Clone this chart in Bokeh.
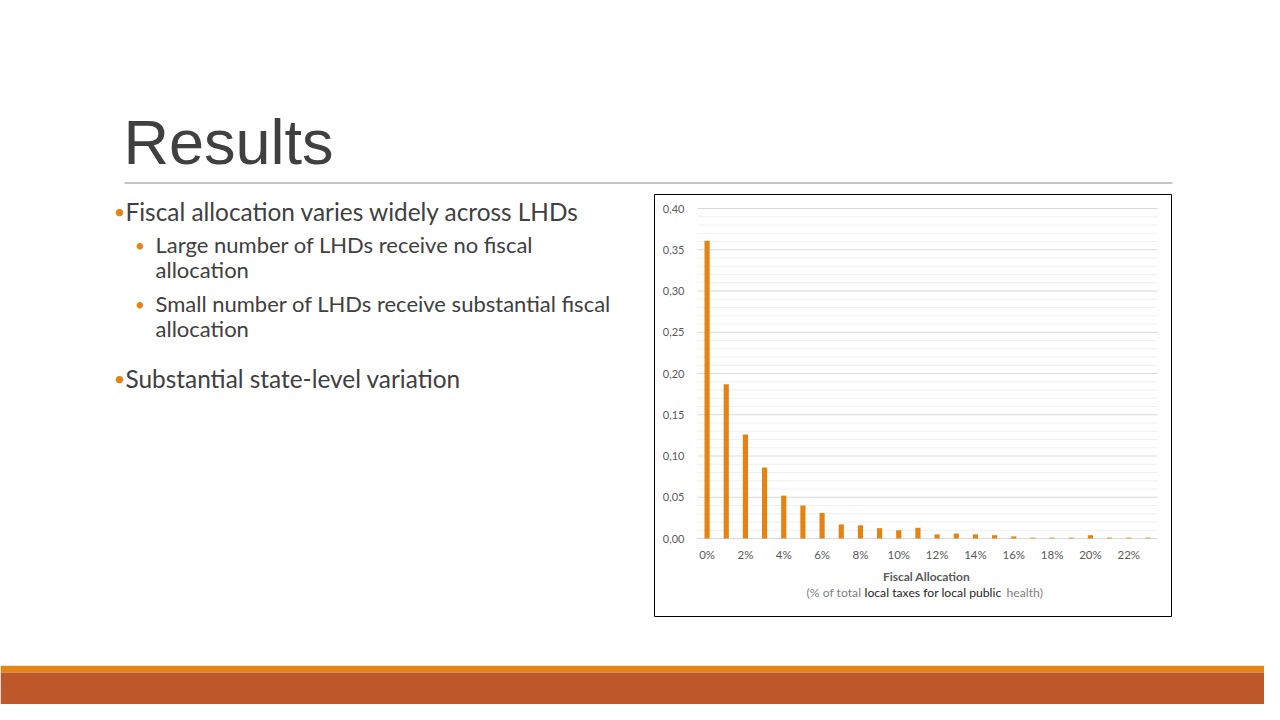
from bokeh.plotting import figure
from bokeh.layouts import column, row
from bokeh.models import Range1d, FixedTicker, CustomJSTickFormatter, ColumnDataSource, LinearAxis
from bokeh.core.properties import value
from bokeh.embed import file_html
from bokeh.resources import INLINE

# ---------------- data ----------------
slide_title = "Results"
bullet_1 = "Fiscal allocation varies widely across LHDs"
sub_bullet_1 = ["Large number of LHDs receive no fiscal", "allocation"]
sub_bullet_2 = ["Small number of LHDs receive substantial fiscal", "allocation"]
bullet_2 = "Substantial state-level variation"

allocation_pct = list(range(24))
share = [0.361, 0.187, 0.126, 0.086, 0.052, 0.040, 0.031, 0.017, 0.016, 0.0125,
         0.010, 0.013, 0.005, 0.006, 0.005, 0.004, 0.0025, 0.001, 0.001, 0.001,
         0.004, 0.001, 0.001, 0.001]
x_tick_values = [0, 2, 4, 6, 8, 10, 12, 14, 16, 18, 20, 22]
y_tick_values = [0.00, 0.05, 0.10, 0.15, 0.20, 0.25, 0.30, 0.35, 0.40]
y_minor_values = [i / 100 for i in range(41) if i % 5 != 0]
x_title = "Fiscal Allocation"
x_subtitle_parts = ["(% of total", "local taxes for local public", "health)"]

# ---------------- styles ----------------
ORANGE = "#E48312"
RUST = "#BE582B"
TEXT = "#404040"
BODY_FONT = "Lato"
CHART_FONT = "Lato"
W, H = 1264, 704


def canvas(w, h, x0, y0):
    return figure(width=w, height=h, x_range=Range1d(x0, x0 + w), y_range=Range1d(y0 + h, y0),
                  x_axis_type=None, y_axis_type=None, toolbar_location=None,
                  output_backend="svg", min_border=0, outline_line_color=None,
                  background_fill_color="white", border_fill_color="white")


def put_text(p, x, y, txt, size, color=TEXT, font=BODY_FONT, style="normal", align="left"):
    p.text(x=[x], y=[y], text=[txt], text_font=value(font), text_font_size=value(f"{size}px"),
           text_color=color, text_baseline="middle", text_align=align, text_font_style=style)


# header (y 0..194)
header = canvas(W, 194, 0, 0)
put_text(header, 123, 141.5, slide_title, 63, color="#404040", font="Liberation Sans")
header.segment(x0=[124], y0=[182.5], x1=[1172], y1=[182.5], line_color="#8c8c8c", line_width=1)

# left text panel (x 0..654, y 194..617)
left = canvas(654, 423, 0, 194)
main_size = 24.4
sub_size = 22
main_k = 0.387 * main_size
sub_k = 0.387 * sub_size
put_text(left, 119, 210.5, "•", 20, color=ORANGE, align="center")
put_text(left, 125, 220 - main_k, bullet_1, main_size)
put_text(left, 139.5, 244.5, "•", 17, color=ORANGE, align="center")
put_text(left, 155, 252.7 - sub_k, sub_bullet_1[0], sub_size)
put_text(left, 155, 278 - sub_k, sub_bullet_1[1], sub_size)
put_text(left, 139.5, 304, "•", 17, color=ORANGE, align="center")
put_text(left, 155, 312 - sub_k, sub_bullet_2[0], sub_size)
put_text(left, 155, 337 - sub_k, sub_bullet_2[1], sub_size)
put_text(left, 119, 377, "•", 20, color=ORANGE, align="center")
put_text(left, 125, 387 - main_k, bullet_2, main_size)

# chart box (x 654..1172, y 194..617); plot area x 697..1157, y 208..538
box_l, box_r, box_t, box_b = 654, 1172, 194, 617
pa_l, pa_r, pa_t, pa_b = 697, 1157, 208, 538
x_lo, x_hi = -0.5, len(allocation_pct) - 0.5
y_lo, y_hi = 0.0, 0.40
sx = (x_hi - x_lo) / (pa_r - pa_l)
sy = (y_hi - y_lo) / (pa_b - pa_t)
chart = figure(width=box_r - box_l, height=box_b - box_t,
               x_range=Range1d(x_lo - (pa_l - box_l) * sx, x_hi + (box_r - pa_r) * sx),
               y_range=Range1d(y_lo - (box_b - pa_b) * sy, y_hi + (pa_t - box_t) * sy),
               x_axis_type=None, y_axis_type=None, toolbar_location=None, output_backend="svg",
               min_border=0, outline_line_color="black", outline_line_width=1,
               background_fill_color="white", border_fill_color="white")

# gridlines (minor, major) across the plot area only
chart.segment(x0=x_lo, x1=x_hi, y0=y_minor_values, y1=y_minor_values, line_color="#f0f0f0", line_width=1)
chart.segment(x0=x_lo, x1=x_hi, y0=y_tick_values, y1=y_tick_values, line_color="#d9d9d9", line_width=1)

src = ColumnDataSource(dict(x=allocation_pct, top=share))
chart.vbar(x="x", top="top", width=0.27, source=src, fill_color=ORANGE, line_color=None)

yaxis = LinearAxis(fixed_location=x_lo, ticker=FixedTicker(ticks=y_tick_values),
                   formatter=CustomJSTickFormatter(code="return tick.toFixed(2).replace('.', ',');"))
yaxis.axis_line_color = None
yaxis.major_tick_line_color = None
yaxis.minor_tick_line_color = None
yaxis.major_label_standoff = 7
yaxis.major_label_text_color = "#595959"
yaxis.major_label_text_font = CHART_FONT
yaxis.major_label_text_font_size = "11px"
chart.add_layout(yaxis, "left")

xaxis = LinearAxis(fixed_location=y_lo, ticker=FixedTicker(ticks=x_tick_values),
                   formatter=CustomJSTickFormatter(code="return tick + '%';"))
xaxis.axis_line_color = None
xaxis.major_tick_line_color = None
xaxis.minor_tick_line_color = None
xaxis.major_label_standoff = 3
xaxis.major_label_text_color = "#595959"
xaxis.major_label_text_font = CHART_FONT
xaxis.major_label_text_font_size = "11.5px"
chart.add_layout(xaxis, "below")


# axis title lines (screen-derived positions converted to data units)
def dx(px):
    return x_lo + (px - pa_l) * sx


def dy(py):
    return y_lo - (py - pa_b) * sy


chart.text(x=[dx(926)], y=[dy(576)], text=[x_title], text_font=value(CHART_FONT),
           text_font_size=value("12px"), text_color="#595959", text_font_style="bold",
           text_align="center", text_baseline="middle")
sub_colors = ["#7f7f7f", "#262626", "#7f7f7f"]
sub_px = [806, 864, 1006]
for part, col, px in zip(x_subtitle_parts, sub_colors, sub_px):
    chart.text(x=[dx(px)], y=[dy(592)], text=[part], text_font=value(CHART_FONT),
               text_font_size=value("12.2px"), text_color=col, text_align="left", text_baseline="middle")

right = canvas(W - box_r, 423, box_r, 194)

# gap + footer
gap = canvas(W, 665 - box_b, 0, box_b)
footer = canvas(W, H - 665, 0, 665)
footer.quad(left=[0], right=[W], top=[665], bottom=[672], fill_color="#E38517", line_color=None)
footer.quad(left=[0], right=[W], top=[672], bottom=[H], fill_color=RUST, line_color=None)

layout = column(header, row(left, chart, right, spacing=0), gap, footer, spacing=0)

open("out.html", "w").write(file_html(layout, INLINE))
